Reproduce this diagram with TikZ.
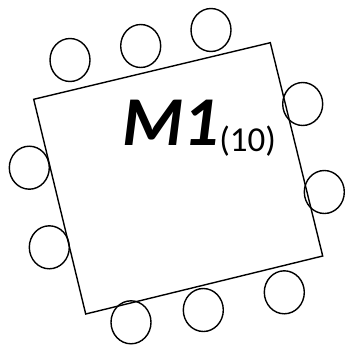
\documentclass[tikz,border=0pt]{standalone}
\usepackage{fontspec}
\setmainfont{Carlito}
\usetikzlibrary{shapes.geometric, positioning}

\begin{document}
\begin{tikzpicture}[x=1pt, y=-1pt, line width=1.4pt,
    seat/.style={draw, ellipse, minimum width=40pt, minimum height=43pt, inner sep=0pt}]
    \useasboundingbox (0,0) rectangle (347,345);

    % table
    \coordinate (tl) at (33.7,99.3);
    \coordinate (tr) at (270.3,42.7);
    \coordinate (br) at (322.7,256);
    \coordinate (bl) at (85.7,314);
    \draw (tl) -- (tr) -- (br) -- (bl) -- cycle;

    \node[anchor=base west, inner sep=0pt] (name) at (122,145)
        {{\fontsize{70}{70}\selectfont\bfseries\itshape M1}\raisebox{-6pt}{\fontsize{35}{35}\selectfont(10)}};

    % seats
    \node[seat] (s1) at (70,60) {};
    \node[seat] (s2) at (140.7,46) {};
    \node[seat] (s3) at (211,30) {};
    \node[seat] (s4) at (302.7,104) {};
    \node[seat] (s5) at (324.3,192) {};
    \node[seat] (s6) at (284.3,292.3) {};
    \node[seat] (s7) at (203.3,310) {};
    \node[seat] (s8) at (131,322.3) {};
    \node[seat] (s9) at (49.3,247.3) {};
    \node[seat] (s10) at (29.3,167.7) {};
\end{tikzpicture}
\end{document}
